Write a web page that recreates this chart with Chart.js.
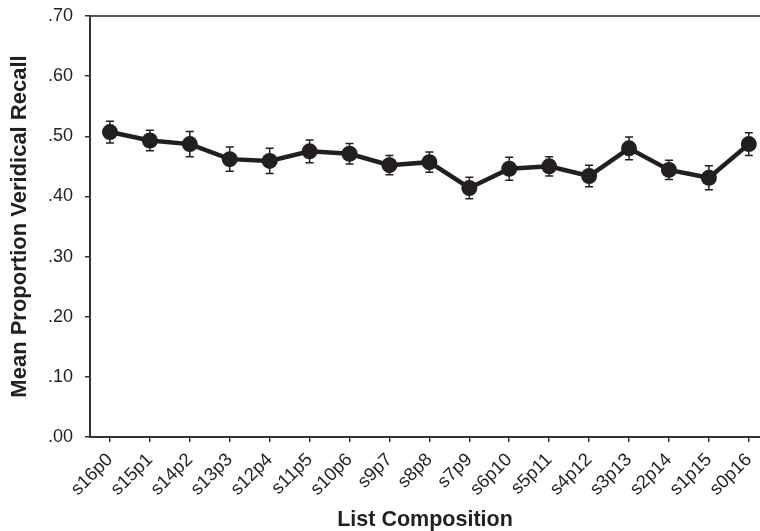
<!DOCTYPE html>
<html>
<head>
<meta charset="utf-8">
<script src="https://cdn.jsdelivr.net/npm/chart.js@4/dist/chart.umd.min.js"></script>
<style>
  html, body { margin: 0; padding: 0; background: #ffffff; }
  #wrap { width: 760px; height: 531px; }
</style>
</head>
<body>
<div id="wrap"><canvas id="c" width="760" height="531"></canvas></div>
<script>
const categories = ['s16p0','s15p1','s14p2','s13p3','s12p4','s11p5','s10p6','s9p7','s8p8','s7p9','s6p10','s5p11','s4p12','s3p13','s2p14','s1p15','s0p16'];
const means = [0.507, 0.493, 0.487, 0.462, 0.459, 0.475, 0.471, 0.452, 0.457, 0.414, 0.446, 0.450, 0.434, 0.480, 0.444, 0.431, 0.487];
const errors = [0.018, 0.017, 0.021, 0.020, 0.021, 0.019, 0.017, 0.016, 0.017, 0.018, 0.019, 0.016, 0.018, 0.019, 0.016, 0.020, 0.019];
const yTickValues = [0, 0.1, 0.2, 0.3, 0.4, 0.5, 0.6, 0.7];
const yTickLabels = ['.00', '.10', '.20', '.30', '.40', '.50', '.60', '.70'];
const xTitle = 'List Composition';
const yTitle = 'Mean Proportion Veridical Recall';

const INK = '#231f20';
const AXIS = '#333333';

const errorBars = {
  id: 'errorBars',
  beforeDatasetsDraw(chart) {
    const {ctx, scales: {x, y}} = chart;
    ctx.save();
    ctx.strokeStyle = INK;
    ctx.lineWidth = 1.5;
    means.forEach((m, i) => {
      const px = x.getPixelForValue(i);
      const top = y.getPixelForValue(m + errors[i]);
      const bot = y.getPixelForValue(m - errors[i]);
      ctx.beginPath();
      ctx.moveTo(px, top); ctx.lineTo(px, bot);
      ctx.moveTo(px - 4, top); ctx.lineTo(px + 4, top);
      ctx.moveTo(px - 4, bot); ctx.lineTo(px + 4, bot);
      ctx.stroke();
    });
    ctx.restore();
  }
};

const topBorder = {
  id: 'topBorder',
  afterDraw(chart) {
    const {ctx, chartArea, scales: {y}} = chart;
    const py = y.getPixelForValue(yTickValues[yTickValues.length - 1]);
    ctx.save();
    ctx.strokeStyle = '#555555';
    ctx.lineWidth = 2;
    ctx.beginPath();
    ctx.moveTo(chartArea.left, py);
    ctx.lineTo(chartArea.right, py);
    ctx.stroke();
    ctx.restore();
  }
};

new Chart(document.getElementById('c'), {
  type: 'line',
  data: {
    datasets: [{
      data: means.map((m, i) => ({x: i, y: m})),
      borderColor: INK,
      backgroundColor: INK,
      borderWidth: 4.5,
      pointRadius: 8,
      pointHoverRadius: 8,
      pointBackgroundColor: INK,
      pointBorderColor: INK,
      pointBorderWidth: 0,
      tension: 0,
      fill: false,
      clip: false
    }]
  },
  options: {
    responsive: false,
    animation: false,
    events: [],
    layout: { autoPadding: false, padding: { top: 16, right: 0, bottom: 0, left: 0 } },
    plugins: { legend: { display: false }, tooltip: { enabled: false } },
    scales: {
      x: {
        type: 'linear',
        min: -0.5,
        max: 16.28,
        afterBuildTicks(scale) { scale.ticks = categories.map((c, i) => ({value: i})); },
        afterFit(scale) { scale.height = 94; scale.paddingLeft = 0; scale.paddingRight = 0; },
        grid: { drawOnChartArea: false, drawTicks: true, tickLength: 5, color: AXIS, lineWidth: 1.5 },
        border: { display: true, color: AXIS, width: 2 },
        ticks: {
          autoSkip: false,
          minRotation: 45,
          maxRotation: 45,
          padding: 7,
          color: '#231f20',
          font: { family: '"Liberation Sans", Arial, sans-serif', size: 18.5 },
          callback: (v) => categories[v]
        },
        title: {
          display: true,
          text: xTitle,
          color: '#231f20',
          font: { family: '"Liberation Sans", Arial, sans-serif', size: 21.5, weight: 'bold', lineHeight: 1 },
          padding: { top: 0, bottom: 0 }
        }
      },
      y: {
        min: 0,
        max: 0.7,
        afterBuildTicks(scale) { scale.ticks = yTickValues.map(v => ({value: v})); },
        afterFit(scale) { scale.width = 90; scale.paddingTop = 0; scale.paddingBottom = 0; },
        grid: { drawOnChartArea: false, drawTicks: true, tickLength: 5, color: AXIS, lineWidth: 1.5 },
        border: { display: true, color: AXIS, width: 2 },
        ticks: {
          padding: 12,
          color: '#231f20',
          font: { family: '"Liberation Sans", Arial, sans-serif', size: 18 },
          callback: (v) => yTickLabels[yTickValues.findIndex(t => Math.abs(t - v) < 1e-9)]
        },
        title: {
          display: true,
          text: yTitle,
          color: '#231f20',
          font: { family: '"Liberation Sans", Arial, sans-serif', size: 22, weight: 'bold', lineHeight: 1 },
          padding: { top: 9, bottom: 0 }
        }
      }
    }
  },
  plugins: [errorBars, topBorder]
});
</script>
</body>
</html>
